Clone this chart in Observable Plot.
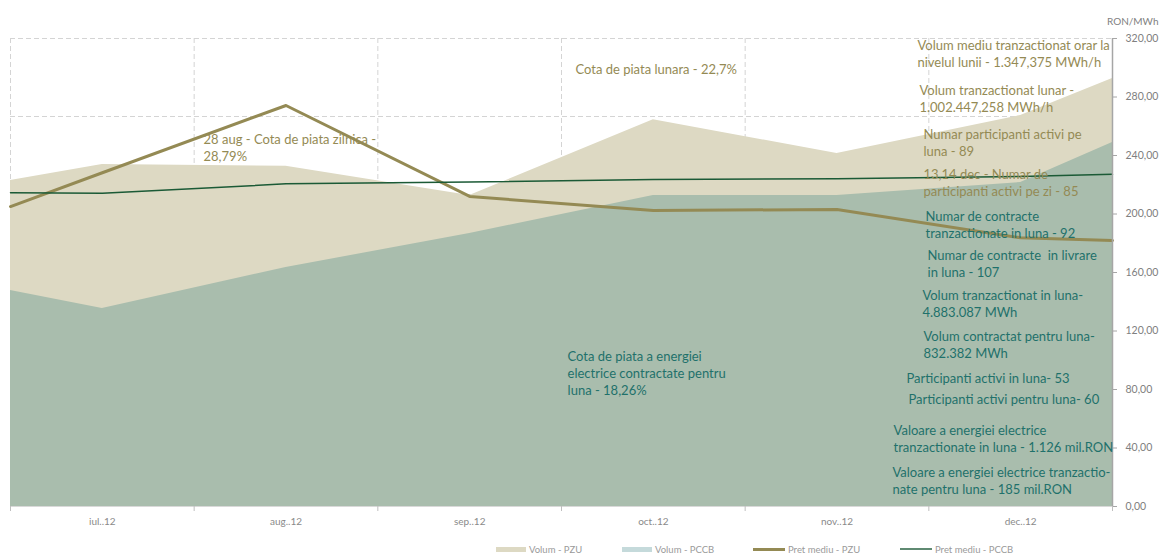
<!DOCTYPE html>
<html>
<head>
<meta charset="utf-8">
<script src="https://cdn.jsdelivr.net/npm/d3@7"></script>
<script src="https://cdn.jsdelivr.net/npm/@observablehq/plot@0.6"></script>
<style>
  body { margin: 0; background: #fff; font-family: Lato, "Open Sans", sans-serif; }
  #chart svg { display: block; }
  #legend { position: relative; height: 23px; font-size: 9.5px; color: #9a9a9a; }
  .item { position: absolute; top: 8px; display: flex; align-items: center; height: 12px; }
  .sw { width: 30px; margin-right: 3px; }
</style>
</head>
<body>
<div id="chart"></div>
<div id="legend"></div>
<script>
// Categories (months)
const months = ["iul..12", "aug..12", "sep..12", "oct..12", "nov..12", "dec..12"];
// Series values: [left plot edge, iul, aug, sep, oct, nov, dec, right plot edge] (RON/MWh scale)
const volumPZU  = [222.9, 233.8, 232.7, 212.6, 264.4, 241.4, 267.4, 292.6];
const volumPCCB = [147.7, 135.4, 163.4, 186.7, 212.6, 212.6, 221.5, 248.9];
const pretPZU   = [205.1, 228.2, 274.2, 212.0, 202.4, 203.1, 183.7, 181.9];
const pretPCCB  = [214.5, 214.2, 220.6, 221.9, 223.6, 224.1, 225.6, 227.2];
// Right axis tick values
const yTicks = [0, 40, 80, 120, 160, 200, 240, 280, 320];
const yUnit = "RON/MWh";
// Legend labels
const seriesNames = ["Volum - PZU", "Volum - PCCB", "Pret mediu - PZU", "Pret mediu - PCCB"];
// Annotations: text, x (month-index units), y (top of block, axis units), colour
const olive = "#948a54", teal = "#1f716b";
const notes = [
  {text: "Cota de piata lunara - 22,7%", x: 3.076, y: 303.9, c: olive},
  {text: "28 aug - Cota de piata zilnica -\n28,79%", x: 1.051, y: 256.1, c: olive},
  {text: "Volum mediu tranzactionat orar la\nnivelul lunii - 1.347,375 MWh/h", x: 4.938, y: 320.3, c: olive},
  {text: "Volum tranzactionat lunar -\n1.002.447,258 MWh/h", x: 4.949, y: 289.6, c: olive},
  {text: "Numar participanti activi pe\nluna - 89", x: 4.971, y: 259.5, c: olive},
  {text: "13,14 dec - Numar de\nparticipanti activi pe zi - 85", x: 4.971, y: 232.1, c: olive},
  {text: "Numar de contracte\ntranzactionate in luna - 92", x: 4.982, y: 203.4, c: teal},
  {text: "Numar de contracte  in livrare\nin luna - 107", x: 4.993, y: 176.8, c: teal},
  {text: "Volum tranzactionat in luna-\n4.883.087 MWh", x: 4.965, y: 149.4, c: teal},
  {text: "Volum contractat pentru luna-\n832.382 MWh", x: 4.971, y: 121.4, c: teal},
  {text: "Participanti activi in luna- 53", x: 4.878, y: 92.6, c: teal},
  {text: "Participanti activi pentru luna- 60", x: 4.889, y: 78.3, c: teal},
  {text: "Valoare a energiei electrice\ntranzactionate in luna - 1.126 mil.RON", x: 4.808, y: 57.1, c: teal},
  {text: "Valoare a energiei electrice tranzactio-\nnate pentru luna - 185 mil.RON", x: 4.802, y: 28.4, c: teal},
  {text: "Cota de piata a energiei\nelectrice contractate pentru\nluna - 18,26%", x: 3.033, y: 107.7, c: teal}
];

const n = months.length;
const pos = [0, ...months.map((_, i) => i + 0.5), n];
const rows = pos.map((x, i) => ({x, vpzu: volumPZU[i], vpccb: volumPCCB[i], ppzu: pretPZU[i], ppccb: pretPCCB[i]}));
const yMax = yTicks[yTicks.length - 1];
const gridY = d3.range(0, 7).map(k => yMax * k / 6);
const colors = {vpzu: "#ddd9c3", vpccb: "#a9bdad", vpccbLegend: "#c5dadb", ppzu: "#948a54", ppccb: "#1b5a36"};

const chart = Plot.plot({
  width: 1161, height: 535,
  marginLeft: 10, marginRight: 49, marginTop: 38, marginBottom: 29,
  style: {fontFamily: "Lato, 'Open Sans', sans-serif", background: "#fff"},
  x: {domain: [0, n]},
  y: {domain: [0, yMax]},
  marks: [
    Plot.ruleY(gridY.slice(1), {stroke: "#d4d4d4", strokeDasharray: "5,3"}),
    Plot.ruleX(d3.range(0, n), {stroke: "#d4d4d4", strokeDasharray: "5,3"}),
    Plot.areaY(rows, {x: "x", y: "vpzu", fill: colors.vpzu}),
    Plot.areaY(rows, {x: "x", y: "vpccb", fill: colors.vpccb}),
    Plot.line(rows, {x: "x", y: "ppzu", stroke: colors.ppzu, strokeWidth: 3}),
    Plot.line(rows, {x: "x", y: "ppccb", stroke: colors.ppccb, strokeWidth: 1.5}),
    Plot.ruleY([0], {stroke: "#d9d9d9"}),
    Plot.ruleX([n], {stroke: "#a6a6a6", strokeWidth: 1.5}),
    Plot.axisY({anchor: "right", ticks: yTicks, tickFormat: d => d.toFixed(2).replace(".", ","),
      tickSize: 4, tickPadding: 9, stroke: "#a6a6a6", fill: "#808080", fontSize: 10.5, label: null}),
    Plot.axisX({ticks: d3.range(0, n + 1), tickFormat: () => "", tickSize: 5, stroke: "#bfbfbf", label: null}),
    Plot.axisX({ticks: months.map((_, i) => i + 0.5), tickFormat: d => months[Math.floor(d)],
      tickSize: 0, tickPadding: 11, fill: "#8a8a8a", fontSize: 10, label: null}),
    Plot.text(notes, {x: "x", y: "y", text: "text", fill: "c", textAnchor: "start", lineAnchor: "top",
      lineHeight: 1.31, fontSize: 13}),
    Plot.text([yUnit], {frameAnchor: "top-right", dx: 46, dy: -21, fill: "#7f7f7f", fontSize: 10, textAnchor: "end"})
  ]
});
document.getElementById("chart").append(chart);

// Legend
const legend = document.getElementById("legend");
const lefts = [496, 622, 753, 900];
const swatches = [
  {bg: colors.vpzu, h: 5}, {bg: colors.vpccbLegend, h: 5}, {bg: colors.ppzu, h: 3}, {bg: "#5f8a72", h: 2}
];
seriesNames.forEach((name, i) => {
  const it = document.createElement("div");
  it.className = "item";
  it.style.left = lefts[i] + "px";
  const sw = document.createElement("span");
  sw.className = "sw";
  sw.style.background = swatches[i].bg;
  sw.style.height = swatches[i].h + "px";
  if (i >= 2) sw.style.width = "32px";
  const tx = document.createElement("span");
  tx.textContent = name;
  it.append(sw, tx);
  legend.append(it);
});
</script>
</body>
</html>
